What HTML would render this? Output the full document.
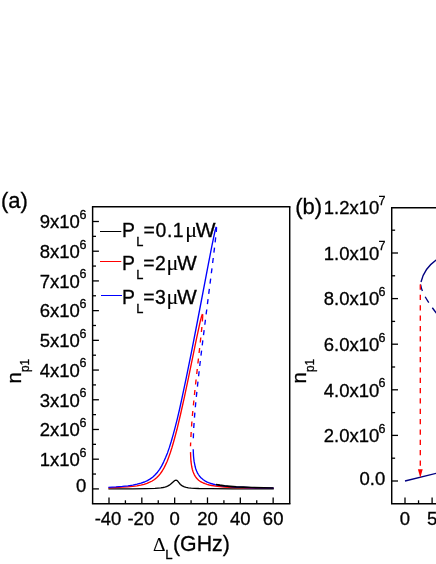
<!DOCTYPE html>
<html><head><meta charset="utf-8"><title>chart</title>
<style>
html,body{margin:0;padding:0;background:#fff;}
body{width:436px;height:564px;overflow:hidden;}
svg{display:block;will-change:transform;}
svg text{font-family:"Liberation Sans",sans-serif;fill:#000;stroke:#000;stroke-width:0.3px;}
svg text.sf{font-family:"Liberation Serif",serif;stroke-width:0.1px;}
</style></head><body>
<svg width="436" height="564" viewBox="0 0 436 564">
<rect width="436" height="564" fill="#fff"/>
<path d="M108.4,488.8 L132.3,488.8 L146.2,488.6 L155.0,488.3 L158.1,488.1 L160.8,487.9 L163.0,487.5 L164.8,487.1 L166.5,486.6 L168.0,485.9 L169.3,485.2 L170.5,484.3 L174.5,480.8 L175.3,480.3 L176.0,480.2 L176.7,480.3 L177.3,480.7 L177.9,481.4 L179.5,483.4 L180.4,484.5 L181.6,485.4 L182.8,486.2 L184.4,486.9 L186.2,487.4 L188.4,487.8 L191.2,488.1 L194.5,488.3 L198.8,488.5 L211.1,488.7 L232.6,488.8 L273.8,488.9" fill="none" stroke="#000" stroke-width="1.35" stroke-linejoin="round"/>
<path d="M108.4,487.9 L115.8,487.6 L122.2,487.2 L127.7,486.8 L132.6,486.4 L136.9,485.8 L140.7,485.1 L144.1,484.3 L147.0,483.4 L149.7,482.2 L152.2,481.0 L154.5,479.5 L156.6,477.7 L158.6,475.8 L160.4,473.6 L162.2,471.0 L163.9,468.1 L165.5,464.9 L167.2,461.2 L168.7,457.2 L170.3,452.7 L171.9,447.7 L173.5,442.2 L175.2,436.0 L177.0,429.3 L180.5,414.5 L184.5,396.6 L188.5,377.6 L196.4,339.2 L199.1,326.6 L200.3,321.1 L201.3,317.3 L202.0,315.1 L202.2,314.5 L202.4,314.3" fill="none" stroke="#ff0000" stroke-width="1.35" stroke-linejoin="round"/>
<path d="M190.5,452.1 L190.8,458.7 L191.0,461.7 L191.4,464.5 L191.8,467.0 L192.3,469.2 L192.9,471.2 L193.6,473.1 L194.4,474.8 L195.3,476.4 L196.3,477.8 L197.4,479.1 L198.6,480.2 L200.1,481.3 L201.6,482.2 L203.3,483.0 L205.1,483.7 L207.1,484.4 L209.3,485.0 L211.8,485.5 L217.4,486.3 L224.3,487.0 L232.8,487.5 L243.4,487.9 L256.7,488.2 L273.6,488.4" fill="none" stroke="#ff0000" stroke-width="1.35" stroke-linejoin="round"/>
<path d="M202.4,314.3 L202.6,314.6 L202.7,315.2 L202.6,317.7 L202.3,321.9 L201.8,328.0 L200.4,341.2 L195.2,387.5 L193.8,401.3 L192.6,413.2 L191.8,422.8 L191.2,431.6 L190.8,439.5 L190.5,446.2" fill="none" stroke="#ff0000" stroke-width="1.35" stroke-dasharray="5.0 5.55" stroke-dashoffset="-2.3" stroke-linejoin="round"/>
<path d="M202.4,314.3 L202.6,314.5 L202.7,315.0 L202.6,317.2 L202.4,320.8 L202.0,325.9" fill="none" stroke="#ff0000" stroke-width="1.35" stroke-dasharray="2.6 1000" stroke-linejoin="round"/>
<path d="M108.4,487.3 L115.9,486.9 L122.3,486.4 L127.9,485.8 L132.8,485.1 L137.1,484.2 L141.0,483.2 L144.4,482.0 L147.4,480.6 L150.3,478.9 L152.9,477.0 L155.2,474.8 L157.5,472.2 L159.6,469.3 L161.7,465.9 L163.6,462.1 L165.6,457.6 L167.5,452.9 L169.4,447.4 L171.3,441.3 L173.2,434.6 L175.2,427.1 L177.3,418.8 L179.5,409.5 L181.7,399.4 L186.4,377.2 L191.8,350.4 L197.3,322.0 L208.3,264.3 L212.0,245.4 L213.7,237.2 L214.9,231.5 L215.8,228.2 L216.1,227.3 L216.3,227.1" fill="none" stroke="#0000ff" stroke-width="1.35" stroke-linejoin="round"/>
<path d="M193.2,449.2 L193.5,456.0 L193.8,459.0 L194.2,461.9 L194.7,464.4 L195.2,466.8 L195.8,468.9 L196.6,471.0 L197.4,472.8 L198.4,474.5 L199.4,476.0 L200.6,477.4 L201.9,478.6 L203.3,479.8 L204.9,480.8 L206.7,481.8 L208.5,482.6 L210.6,483.3 L212.8,484.0 L215.2,484.6 L217.9,485.1 L220.9,485.6 L227.6,486.4 L235.8,487.0 L245.9,487.5 L258.1,487.9 L273.6,488.2" fill="none" stroke="#0000ff" stroke-width="1.35" stroke-linejoin="round"/>
<path d="M216.3,227.1 L216.5,227.4 L216.5,228.3 L216.3,232.0 L215.6,238.2 L214.6,247.0 L212.2,266.5 L202.7,341.4 L199.9,364.5 L197.7,384.0 L195.9,400.9 L194.6,415.6 L193.7,428.1 L193.3,438.8" fill="none" stroke="#0000ff" stroke-width="1.35" stroke-dasharray="5.0 5.38" stroke-linejoin="round"/>
<path d="M215.8,484.5 L219.8,485.2 L224.6,485.9 L230.1,486.4 L236.3,486.9 L243.5,487.2 L252.0,487.5 L273.6,488.0" fill="none" stroke="#000" stroke-width="1.75" stroke-linejoin="round"/>
<path d="M91.89500000000001,206.78 L290.44500000000005,206.78" fill="none" stroke="#000" stroke-width="1.35"/>
<path d="M91.89500000000001,503.7 L290.44500000000005,503.7" fill="none" stroke="#000" stroke-width="1.55"/>
<path d="M92.62,206.78 L92.62,503.7 M289.72,206.78 L289.72,503.7" fill="none" stroke="#000" stroke-width="1.45"/>
<line x1="92.62" y1="488.90" x2="98.92" y2="488.90" stroke="#000" stroke-width="1.3"/>
<line x1="92.62" y1="474.04" x2="96.02000000000001" y2="474.04" stroke="#000" stroke-width="1.3"/>
<line x1="92.62" y1="459.19" x2="98.92" y2="459.19" stroke="#000" stroke-width="1.3"/>
<line x1="92.62" y1="444.33" x2="96.02000000000001" y2="444.33" stroke="#000" stroke-width="1.3"/>
<line x1="92.62" y1="429.48" x2="98.92" y2="429.48" stroke="#000" stroke-width="1.3"/>
<line x1="92.62" y1="414.62" x2="96.02000000000001" y2="414.62" stroke="#000" stroke-width="1.3"/>
<line x1="92.62" y1="399.77" x2="98.92" y2="399.77" stroke="#000" stroke-width="1.3"/>
<line x1="92.62" y1="384.91" x2="96.02000000000001" y2="384.91" stroke="#000" stroke-width="1.3"/>
<line x1="92.62" y1="370.06" x2="98.92" y2="370.06" stroke="#000" stroke-width="1.3"/>
<line x1="92.62" y1="355.20" x2="96.02000000000001" y2="355.20" stroke="#000" stroke-width="1.3"/>
<line x1="92.62" y1="340.34" x2="98.92" y2="340.34" stroke="#000" stroke-width="1.3"/>
<line x1="92.62" y1="325.49" x2="96.02000000000001" y2="325.49" stroke="#000" stroke-width="1.3"/>
<line x1="92.62" y1="310.63" x2="98.92" y2="310.63" stroke="#000" stroke-width="1.3"/>
<line x1="92.62" y1="295.78" x2="96.02000000000001" y2="295.78" stroke="#000" stroke-width="1.3"/>
<line x1="92.62" y1="280.92" x2="98.92" y2="280.92" stroke="#000" stroke-width="1.3"/>
<line x1="92.62" y1="266.07" x2="96.02000000000001" y2="266.07" stroke="#000" stroke-width="1.3"/>
<line x1="92.62" y1="251.21" x2="98.92" y2="251.21" stroke="#000" stroke-width="1.3"/>
<line x1="92.62" y1="236.36" x2="96.02000000000001" y2="236.36" stroke="#000" stroke-width="1.3"/>
<line x1="92.62" y1="221.50" x2="98.92" y2="221.50" stroke="#000" stroke-width="1.3"/>
<line x1="109.00" y1="503.7" x2="109.00" y2="497.4" stroke="#000" stroke-width="1.3"/>
<line x1="125.41" y1="503.7" x2="125.41" y2="500.3" stroke="#000" stroke-width="1.3"/>
<line x1="141.83" y1="503.7" x2="141.83" y2="497.4" stroke="#000" stroke-width="1.3"/>
<line x1="158.25" y1="503.7" x2="158.25" y2="500.3" stroke="#000" stroke-width="1.3"/>
<line x1="174.66" y1="503.7" x2="174.66" y2="497.4" stroke="#000" stroke-width="1.3"/>
<line x1="191.07" y1="503.7" x2="191.07" y2="500.3" stroke="#000" stroke-width="1.3"/>
<line x1="207.49" y1="503.7" x2="207.49" y2="497.4" stroke="#000" stroke-width="1.3"/>
<line x1="223.91" y1="503.7" x2="223.91" y2="500.3" stroke="#000" stroke-width="1.3"/>
<line x1="240.32" y1="503.7" x2="240.32" y2="497.4" stroke="#000" stroke-width="1.3"/>
<line x1="256.74" y1="503.7" x2="256.74" y2="500.3" stroke="#000" stroke-width="1.3"/>
<line x1="273.15" y1="503.7" x2="273.15" y2="497.4" stroke="#000" stroke-width="1.3"/>
<text transform="translate(79.90,465.99) scale(0.985,1)" font-size="18.8" text-anchor="end">1x10</text>
<text x="79.60" y="456.59" font-size="12.5">6</text>
<text transform="translate(79.90,436.28) scale(0.985,1)" font-size="18.8" text-anchor="end">2x10</text>
<text x="79.60" y="426.88" font-size="12.5">6</text>
<text transform="translate(79.90,406.57) scale(0.985,1)" font-size="18.8" text-anchor="end">3x10</text>
<text x="79.60" y="397.17" font-size="12.5">6</text>
<text transform="translate(79.90,376.86) scale(0.985,1)" font-size="18.8" text-anchor="end">4x10</text>
<text x="79.60" y="367.46" font-size="12.5">6</text>
<text transform="translate(79.90,347.14) scale(0.985,1)" font-size="18.8" text-anchor="end">5x10</text>
<text x="79.60" y="337.74" font-size="12.5">6</text>
<text transform="translate(79.90,317.43) scale(0.985,1)" font-size="18.8" text-anchor="end">6x10</text>
<text x="79.60" y="308.03" font-size="12.5">6</text>
<text transform="translate(79.90,287.72) scale(0.985,1)" font-size="18.8" text-anchor="end">7x10</text>
<text x="79.60" y="278.32" font-size="12.5">6</text>
<text transform="translate(79.90,258.01) scale(0.985,1)" font-size="18.8" text-anchor="end">8x10</text>
<text x="79.60" y="248.61" font-size="12.5">6</text>
<text transform="translate(79.90,228.30) scale(0.985,1)" font-size="18.8" text-anchor="end">9x10</text>
<text x="79.60" y="218.90" font-size="12.5">6</text>
<text transform="translate(86.20,492.30) scale(0.985,1)" font-size="18.8" text-anchor="end">0</text>
<text transform="translate(108.00,525.20) scale(0.985,1)" font-size="18.8" text-anchor="middle">-40</text>
<text transform="translate(140.83,525.20) scale(0.985,1)" font-size="18.8" text-anchor="middle">-20</text>
<text transform="translate(174.66,525.20) scale(0.985,1)" font-size="18.8" text-anchor="middle">0</text>
<text transform="translate(207.49,525.20) scale(0.985,1)" font-size="18.8" text-anchor="middle">20</text>
<text transform="translate(240.32,525.20) scale(0.985,1)" font-size="18.8" text-anchor="middle">40</text>
<text transform="translate(273.15,525.20) scale(0.985,1)" font-size="18.8" text-anchor="middle">60</text>
<text x="0.90" y="207.80" font-size="22">(a)</text>
<g transform="translate(21.0,383.6) rotate(-90)"><text x="0" y="0" font-size="20.5">n</text><text transform="translate(11.6,8.0) scale(0.93,1)" font-size="12.8">p1</text></g>
<text x="153.00" y="551.00" font-size="19.5" class="sf">Δ</text>
<text x="165.30" y="559.30" font-size="13.2">L</text>
<text transform="translate(173.00,551.20) scale(1.005,1)" font-size="21.2">(GHz)</text>
<line x1="100.0" y1="231.5" x2="121.3" y2="231.5" stroke="#000" stroke-width="1"/>
<text x="121.95" y="237.10" font-size="19.4">P</text>
<text x="136.30" y="246.10" font-size="12.8">L</text>
<text x="143.45 155.6 166.9 172.8" y="237.1" font-size="19.4">=0.1</text>
<text transform="translate(185.30,237.10) scale(1.1,1)" font-size="20" class="sf">μ</text>
<text transform="translate(195.70,237.10) scale(1.08,1)" font-size="19.4">W</text>
<line x1="100.0" y1="261.5" x2="121.3" y2="261.5" stroke="#ff0000" stroke-width="1"/>
<text x="121.95" y="270.20" font-size="19.4">P</text>
<text x="136.30" y="279.20" font-size="12.8">L</text>
<text x="143.3 155.0" y="270.2" font-size="19.4">=2</text>
<text transform="translate(166.60,270.20) scale(1.1,1)" font-size="20" class="sf">μ</text>
<text transform="translate(177.10,270.20) scale(1.08,1)" font-size="19.4">W</text>
<line x1="101.0" y1="295.5" x2="122.0" y2="295.5" stroke="#0000ff" stroke-width="1"/>
<text x="121.95" y="303.60" font-size="19.4">P</text>
<text x="136.30" y="312.60" font-size="12.8">L</text>
<text x="143.3 155.0" y="303.6" font-size="19.4">=3</text>
<text transform="translate(166.60,303.60) scale(1.1,1)" font-size="20" class="sf">μ</text>
<text transform="translate(177.10,303.60) scale(1.08,1)" font-size="19.4">W</text>
<path d="M440,207.7 L390.995,207.7" fill="none" stroke="#000" stroke-width="1.4"/>
<path d="M390.995,503.7 L440,503.7" fill="none" stroke="#000" stroke-width="1.5"/>
<path d="M391.72,207.7 L391.72,503.7" fill="none" stroke="#000" stroke-width="1.45"/>
<line x1="391.72" y1="481.00" x2="398.02000000000004" y2="481.00" stroke="#000" stroke-width="1.3"/>
<line x1="391.72" y1="458.20" x2="395.12" y2="458.20" stroke="#000" stroke-width="1.3"/>
<line x1="391.72" y1="435.40" x2="398.02000000000004" y2="435.40" stroke="#000" stroke-width="1.3"/>
<line x1="391.72" y1="412.60" x2="395.12" y2="412.60" stroke="#000" stroke-width="1.3"/>
<line x1="391.72" y1="389.80" x2="398.02000000000004" y2="389.80" stroke="#000" stroke-width="1.3"/>
<line x1="391.72" y1="367.00" x2="395.12" y2="367.00" stroke="#000" stroke-width="1.3"/>
<line x1="391.72" y1="344.20" x2="398.02000000000004" y2="344.20" stroke="#000" stroke-width="1.3"/>
<line x1="391.72" y1="321.40" x2="395.12" y2="321.40" stroke="#000" stroke-width="1.3"/>
<line x1="391.72" y1="298.60" x2="398.02000000000004" y2="298.60" stroke="#000" stroke-width="1.3"/>
<line x1="391.72" y1="275.80" x2="395.12" y2="275.80" stroke="#000" stroke-width="1.3"/>
<line x1="391.72" y1="253.00" x2="398.02000000000004" y2="253.00" stroke="#000" stroke-width="1.3"/>
<line x1="391.72" y1="230.20" x2="395.12" y2="230.20" stroke="#000" stroke-width="1.3"/>
<line x1="405.00" y1="503.7" x2="405.00" y2="497.4" stroke="#000" stroke-width="1.3"/>
<line x1="418.55" y1="503.7" x2="418.55" y2="500.3" stroke="#000" stroke-width="1.3"/>
<line x1="432.10" y1="503.7" x2="432.10" y2="497.4" stroke="#000" stroke-width="1.3"/>
<text transform="translate(385.30,485.20) scale(0.985,1)" font-size="18.8" text-anchor="end">0.0</text>
<text transform="translate(379.30,442.20) scale(0.985,1)" font-size="18.8" text-anchor="end">2.0x10</text>
<text x="378.60" y="432.80" font-size="12.5">6</text>
<text transform="translate(379.30,396.60) scale(0.985,1)" font-size="18.8" text-anchor="end">4.0x10</text>
<text x="378.60" y="387.20" font-size="12.5">6</text>
<text transform="translate(379.30,351.00) scale(0.985,1)" font-size="18.8" text-anchor="end">6.0x10</text>
<text x="378.60" y="341.60" font-size="12.5">6</text>
<text transform="translate(379.30,305.40) scale(0.985,1)" font-size="18.8" text-anchor="end">8.0x10</text>
<text x="378.60" y="296.00" font-size="12.5">6</text>
<text transform="translate(379.30,259.80) scale(0.985,1)" font-size="18.8" text-anchor="end">1.0x10</text>
<text x="378.60" y="250.40" font-size="12.5">7</text>
<text transform="translate(379.30,214.20) scale(0.985,1)" font-size="18.8" text-anchor="end">1.2x10</text>
<text x="378.60" y="204.80" font-size="12.5">7</text>
<text transform="translate(405.00,525.20) scale(0.985,1)" font-size="18.8" text-anchor="middle">0</text>
<text transform="translate(432.10,525.20) scale(0.985,1)" font-size="18.8" text-anchor="middle">5</text>
<text x="295.30" y="213.50" font-size="22">(b)</text>
<g transform="translate(306.2,383.6) rotate(-90)"><text x="0" y="0" font-size="20.5">n</text><text transform="translate(11.6,8.0) scale(0.93,1)" font-size="12.8">p1</text></g>
<path d="M405,481.0 L440,472.4" fill="none" stroke="#000080" stroke-width="1.35"/>
<path d="M440,257.6 C434,261 424,269 421.0,282.0" fill="none" stroke="#000080" stroke-width="1.35"/>
<path d="M420.6,284.5 C421.3,289.5 424.5,299 440,317.5" fill="none" stroke="#000080" stroke-width="1.35" stroke-dasharray="7.0 6.2"/>
<path d="M420.3,284.5 L420.3,469.5" fill="none" stroke="#ff0000" stroke-width="1.35" stroke-dasharray="5.25 5.1"/>
<path d="M417.9,469.3 L422.7,469.3 L420.3,477.8 Z" fill="#ff0000"/>
</svg>
</body></html>
